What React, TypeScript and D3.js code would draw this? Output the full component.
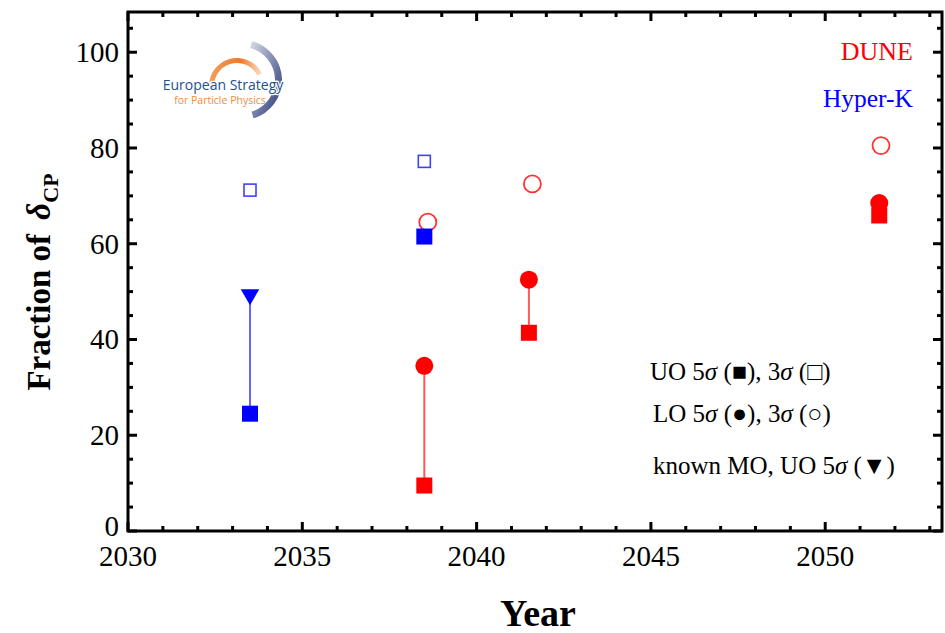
import React from "react";
import * as d3 from "d3";

const W = 945, H = 633;
const M = { left: 128, right: 942, top: 12, bottom: 531 };

const xDomain = [2030, 2053.35];
const yDomain = [0, 108.4];
const xMajorTicks = [2030, 2035, 2040, 2045, 2050];
const yMajorTicks = [0, 20, 40, 60, 80, 100];

// Hyper-K (blue)
const hkYears = [2033.5, 2038.5];
const hkUO5 = [24.5, 61.5];
const hkUO3 = [71.2, 77.2];
const hkKnownMO = [49.6, null];

// DUNE (red)
const duneYears = [2038.5, 2041.5, 2051.55];
const duneOpenYears = [2038.6, 2041.6, 2051.6];
const duneUO5 = [9.5, 41.4, 65.9];
const duneLO5 = [34.5, 52.5, 68.5];
const duneLO3 = [64.5, 72.5, 80.5];

const RED = "#ff0000";
const BLUE = "#0000ff";
const SERIF = "'Liberation Serif', 'DejaVu Serif', serif";

export default function App() {
  const x = d3.scaleLinear().domain(xDomain).range([M.left, M.right]);
  const y = d3.scaleLinear().domain(yDomain).range([M.bottom, M.top]);

  const xMinor = d3.range(2031, 2054, 1).filter((v) => v % 5 !== 0 && v < xDomain[1]);
  const yMinor = d3.range(5, 109, 5).filter((v) => v % 20 !== 0 && v < yDomain[1]);

  const tri = d3.symbol().type(d3.symbolTriangle).size(150)();

  const majorLen = 9, minorLen = 5;
  const tickW = 3;

  return (
    <svg width={W} height={H} style={{ position: "absolute", left: 0, top: 0, background: "#fff" }}
      fontFamily={SERIF}>
      <defs>
        <linearGradient id="logoBlue" x1="0" y1="0" x2="1" y2="1">
          <stop offset="0" stopColor="#d8dbe6" />
          <stop offset="0.5" stopColor="#7d86ad" />
          <stop offset="1" stopColor="#23336e" />
        </linearGradient>
        <linearGradient id="logoOrange" x1="0" y1="0" x2="1" y2="0">
          <stop offset="0" stopColor="#f0a060" />
          <stop offset="0.6" stopColor="#f07a28" />
          <stop offset="1" stopColor="#fbe0c8" />
        </linearGradient>
      </defs>

      {/* Logo */}
      <g>
        <path d={d3.arc()({ innerRadius: 33, outerRadius: 40, startAngle: 0.25, endAngle: 2.85 }) || ""}
          transform="translate(242,80)" fill="url(#logoBlue)" />
        <path d={d3.arc()({ innerRadius: 23, outerRadius: 28, startAngle: -1.7, endAngle: 1.1 }) || ""}
          transform="translate(237,86)" fill="url(#logoOrange)" />
        <text x={223} y={90} textAnchor="middle" fontFamily="'Open Sans', 'DejaVu Sans', sans-serif"
          fontSize={14} fill="#24508f" stroke="#fff" strokeWidth={2.5} paintOrder="stroke">European Strategy</text>
        <text x={220} y={104} textAnchor="middle" fontFamily="'Open Sans', 'DejaVu Sans', sans-serif"
          fontSize={10.5} fill="#f08a3c">for Particle Physics</text>
      </g>

      {/* connecting lines */}
      <line x1={x(hkYears[0])} x2={x(hkYears[0])} y1={y(hkKnownMO[0] as number)} y2={y(hkUO5[0])}
        stroke={BLUE} strokeOpacity={0.6} strokeWidth={2} />
      {duneYears.slice(0, 2).map((yr, i) => (
        <line key={"dl" + i} x1={x(yr)} x2={x(yr)} y1={y(duneLO5[i])} y2={y(duneUO5[i])}
          stroke={RED} strokeOpacity={0.65} strokeWidth={2} />
      ))}

      {/* Hyper-K */}
      {hkYears.map((yr, i) => (
        <rect key={"hko" + i} x={x(yr) - 6} y={y(hkUO3[i]) - 6} width={12} height={12}
          fill="none" stroke={BLUE} strokeOpacity={0.75} strokeWidth={1.6} />
      ))}
      {/* DUNE open circles */}
      {duneOpenYears.map((yr, i) => (
        <circle key={"dco" + i} cx={x(yr)} cy={y(duneLO3[i])} r={8.5} fill="none" stroke={RED}
          strokeOpacity={0.8} strokeWidth={1.8} />
      ))}
      {hkYears.map((yr, i) => (
        <rect key={"hkf" + i} x={x(yr) - 8} y={y(hkUO5[i]) - 8} width={16} height={16} fill={BLUE} />
      ))}
      {hkKnownMO.map((v, i) => v == null ? null : (
        <path key={"hkt" + i} d={tri} transform={`translate(${x(hkYears[i])},${y(v) + 1}) rotate(180)`} fill={BLUE} />
      ))}
      {duneYears.map((yr, i) => (
        <circle key={"dcf" + i} cx={x(yr)} cy={y(duneLO5[i])} r={9} fill={RED} />
      ))}
      {duneYears.map((yr, i) => (
        <rect key={"dsf" + i} x={x(yr) - 8} y={y(duneUO5[i]) - 8} width={16} height={16} fill={RED} />
      ))}

      {/* Frame */}
      <rect x={M.left} y={M.top} width={M.right - M.left} height={M.bottom - M.top}
        fill="none" stroke="#000" strokeWidth={3} />
      {xMajorTicks.map((v) => (
        <g key={"xm" + v}>
          <line x1={x(v)} x2={x(v)} y1={M.bottom} y2={M.bottom - majorLen} stroke="#000" strokeWidth={tickW} />
          <line x1={x(v)} x2={x(v)} y1={M.top} y2={M.top + majorLen} stroke="#000" strokeWidth={tickW} />
          <text x={x(v)} y={566} textAnchor="middle" fontSize={29}>{v}</text>
        </g>
      ))}
      {xMinor.map((v) => (
        <g key={"xn" + v}>
          <line x1={x(v)} x2={x(v)} y1={M.bottom} y2={M.bottom - minorLen} stroke="#000" strokeWidth={tickW} />
          <line x1={x(v)} x2={x(v)} y1={M.top} y2={M.top + minorLen} stroke="#000" strokeWidth={tickW} />
        </g>
      ))}
      {yMajorTicks.map((v) => (
        <g key={"ym" + v}>
          <line x1={M.left} x2={M.left + majorLen} y1={y(v)} y2={y(v)} stroke="#000" strokeWidth={tickW} />
          <line x1={M.right} x2={M.right - majorLen} y1={y(v)} y2={y(v)} stroke="#000" strokeWidth={tickW} />
          <text x={119} y={v === 0 ? y(v) + 5 : y(v) + 10} textAnchor="end" fontSize={29}>{v}</text>
        </g>
      ))}
      {yMinor.map((v) => (
        <g key={"yn" + v}>
          <line x1={M.left} x2={M.left + minorLen} y1={y(v)} y2={y(v)} stroke="#000" strokeWidth={tickW} />
          <line x1={M.right} x2={M.right - minorLen} y1={y(v)} y2={y(v)} stroke="#000" strokeWidth={tickW} />
        </g>
      ))}

      {/* Axis titles */}
      <text x={538} y={626} textAnchor="middle" fontSize={38} fontWeight="bold">Year</text>
      <text transform="translate(50,282) rotate(-90)" textAnchor="middle" fontSize={33} fontWeight="bold">
        Fraction of <tspan fontStyle="italic" dx={6}>δ</tspan><tspan fontSize={22} dy={8}>CP</tspan>
      </text>

      {/* Labels */}
      <text x={913} y={60} textAnchor="end" fontSize={26} fill={RED}>DUNE</text>
      <text x={913} y={107} textAnchor="end" fontSize={25.5} fill={BLUE}>Hyper-K</text>

      <text x={650} y={380} fontSize={25}>
        UO 5<tspan fontStyle="italic">σ</tspan> (■), 3<tspan fontStyle="italic">σ</tspan> (□)
      </text>
      <text x={653} y={422} fontSize={25}>
        LO 5<tspan fontStyle="italic">σ</tspan> (●), 3<tspan fontStyle="italic">σ</tspan> (○)
      </text>
      <text x={653} y={474} fontSize={25}>
        known MO, UO 5<tspan fontStyle="italic">σ</tspan> (▼)
      </text>
    </svg>
  );
}
